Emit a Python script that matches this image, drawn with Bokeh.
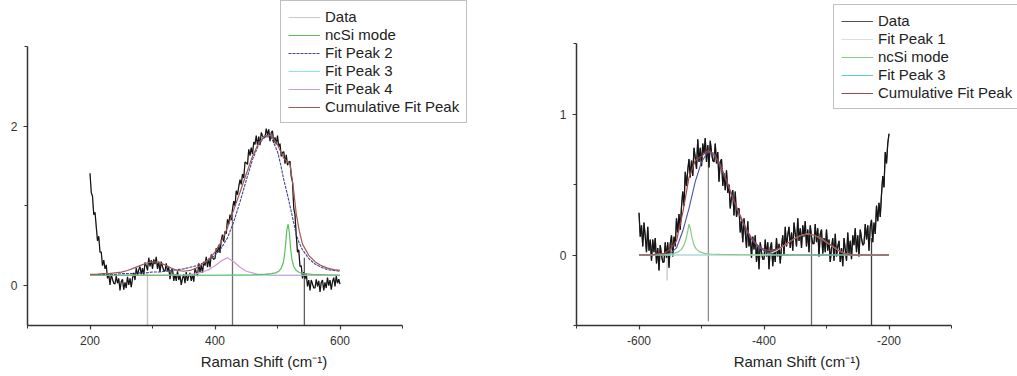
from bokeh.plotting import figure
from bokeh.layouts import row
from bokeh.models import Range1d, FixedTicker, Legend, LegendItem, PrintfTickFormatter
from bokeh.embed import file_html
from bokeh.resources import INLINE

# ---------------- Left panel data ----------------
left_x = list(range(200, 601, 2))
left_y = [
    1.41, 1.17, 1.12, 0.89, 0.92, 0.74, 0.56, 0.62, 0.42, 0.42, 0.25, 0.32, 0.21, 0.26, 0.09, 0.15, 0.01, 0.14, 0.08, 0.03,
    0.02, 0.12, 0.03, 0.09, -0.06, 0.05, 0.08, -0.05, 0.04, -0.03, 0.11, 0.01, 0.09, -0.02, 0.09, 0.16, 0.07, 0.22, 0.13, 0.20,
    0.24, 0.14, 0.22, 0.13, 0.29, 0.25, 0.19, 0.35, 0.24, 0.32, 0.21, 0.33, 0.27, 0.36, 0.21, 0.30, 0.17, 0.30, 0.24, 0.19,
    0.18, 0.28, 0.18, 0.23, 0.08, 0.19, 0.21, 0.06, 0.14, 0.06, 0.18, 0.07, 0.13, 0.01, 0.09, 0.14, 0.03, 0.17, 0.06, 0.12,
    0.16, 0.06, 0.14, 0.05, 0.22, 0.17, 0.12, 0.28, 0.17, 0.26, 0.16, 0.30, 0.25, 0.36, 0.23, 0.34, 0.23, 0.39, 0.35, 0.33,
    0.34, 0.47, 0.41, 0.51, 0.41, 0.57, 0.64, 0.55, 0.68, 0.65, 0.83, 0.77, 0.89, 0.82, 0.96, 1.06, 1.00, 1.19, 1.14, 1.24,
    1.33, 1.27, 1.40, 1.35, 1.55, 1.54, 1.52, 1.71, 1.63, 1.73, 1.65, 1.80, 1.77, 1.88, 1.76, 1.87, 1.76, 1.92, 1.88, 1.85,
    1.86, 1.97, 1.89, 1.96, 1.81, 1.92, 1.94, 1.79, 1.86, 1.77, 1.88, 1.74, 1.78, 1.62, 1.67, 1.68, 1.53, 1.64, 1.51, 1.55,
    1.56, 1.37, 1.30, 0.97, 0.89, 0.63, 0.42, 0.45, 0.24, 0.25, 0.09, 0.17, 0.08, 0.15, -0.01, 0.07, -0.06, 0.07, 0.02, -0.03,
    -0.03, 0.08, -0.01, 0.06, -0.08, 0.04, 0.07, -0.06, 0.04, -0.03, 0.10, 0.00, 0.07, -0.05, 0.05, 0.10, -0.01, 0.12, 0.03, 0.08,
    0.02]

left_fit_x = [200, 210, 220, 230, 240, 250, 260, 270, 280, 290, 300, 310, 320, 330, 340,
              350, 360, 370, 380, 390, 400, 410, 420, 430, 440, 450, 460, 470, 480, 490, 500,
              505, 510, 515, 520, 525, 530, 535, 540,
              550, 560, 570, 580, 590, 600]
left_peak2 = [0.14, 0.14, 0.14, 0.14, 0.14, 0.15, 0.15, 0.15, 0.16, 0.16, 0.17, 0.17, 0.18, 0.19, 0.20,
              0.21, 0.23, 0.25, 0.28, 0.32, 0.38, 0.47, 0.60, 0.80, 1.05, 1.32, 1.58, 1.77, 1.87, 1.86, 1.68,
              1.52, 1.33, 1.17, 1.00, 0.82, 0.64, 0.53, 0.45,
              0.34, 0.27, 0.23, 0.20, 0.19, 0.18]
left_peak4 = [0.13, 0.13, 0.13, 0.13, 0.13, 0.13, 0.13, 0.13, 0.13, 0.13, 0.13, 0.13, 0.13, 0.13, 0.13,
              0.13, 0.14, 0.15, 0.17, 0.20, 0.25, 0.31, 0.35, 0.30, 0.23, 0.18, 0.16, 0.14, 0.14, 0.13, 0.13,
              0.13, 0.13, 0.13, 0.13, 0.13, 0.13, 0.13, 0.13,
              0.13, 0.13, 0.13, 0.13, 0.13, 0.13]
left_cumulative = [0.14, 0.14, 0.15, 0.15, 0.16, 0.17, 0.19, 0.22, 0.25, 0.28, 0.30, 0.29, 0.26, 0.22, 0.19,
                   0.18, 0.19, 0.22, 0.27, 0.33, 0.42, 0.55, 0.73, 0.95, 1.17, 1.40, 1.62, 1.79, 1.88, 1.88, 1.77,
                   1.68, 1.60, 1.56, 1.52, 1.25, 0.90, 0.68, 0.52,
                   0.38, 0.30, 0.25, 0.22, 0.20, 0.19]
left_peak3_x = [200, 600]
left_peak3 = [0.13, 0.13]
left_ncsi_x = [200, 400, 460, 480, 490, 497, 502, 506, 509, 511, 513, 515, 517, 519, 521, 523,
               526, 530, 535, 542, 555, 600]
left_ncsi = [0.13, 0.13, 0.135, 0.14, 0.15, 0.16, 0.18, 0.22, 0.28, 0.37, 0.52, 0.70, 0.77, 0.66, 0.46, 0.33,
             0.24, 0.19, 0.165, 0.15, 0.14, 0.13]
left_spike_x = [292, 428, 543]
left_spike_top = [0.15, 0.90, 0.35]
left_spike_bottom = [-0.5, -0.5, -0.5]

# ---------------- Right panel data ----------------
right_x = list(range(-600, -199, 2))
right_y = [
    0.30, 0.13, 0.21, 0.06, 0.23, 0.13, 0.02, 0.20, 0.03, 0.11, -0.04, 0.11, 0.02, 0.12, -0.06, 0.05, -0.11, 0.07, 0.00, -0.05,
    -0.05, 0.09, -0.02, 0.09, -0.09, 0.08, 0.14, -0.01, 0.13, 0.06, 0.26, 0.16, 0.29, 0.18, 0.34, 0.45, 0.35, 0.59, 0.49, 0.60,
    0.68, 0.55, 0.67, 0.56, 0.76, 0.69, 0.61, 0.82, 0.66, 0.76, 0.63, 0.79, 0.72, 0.83, 0.66, 0.78, 0.62, 0.81, 0.73, 0.67,
    0.66, 0.79, 0.65, 0.73, 0.52, 0.66, 0.68, 0.49, 0.58, 0.46, 0.60, 0.44, 0.50, 0.33, 0.41, 0.46, 0.28, 0.45, 0.27, 0.32,
    0.33, 0.16, 0.24, 0.09, 0.26, 0.16, 0.05, 0.24, 0.06, 0.13, -0.02, 0.13, 0.04, 0.14, -0.05, 0.07, -0.10, 0.09, 0.02, -0.03,
    -0.03, 0.11, -0.01, 0.09, -0.10, 0.05, 0.09, -0.08, 0.04, -0.05, 0.12, -0.01, 0.08, -0.06, 0.06, 0.14, 0.00, 0.20, 0.06, 0.14,
    0.20, 0.05, 0.16, 0.03, 0.23, 0.15, 0.06, 0.26, 0.10, 0.19, 0.05, 0.21, 0.13, 0.24, 0.06, 0.18, 0.02, 0.21, 0.13, 0.08,
    0.08, 0.22, 0.09, 0.19, -0.01, 0.15, 0.18, 0.01, 0.12, 0.02, 0.18, 0.03, 0.11, -0.05, 0.05, 0.12, -0.04, 0.15, -0.01, 0.06,
    0.10, -0.05, 0.05, -0.08, 0.12, 0.04, -0.04, 0.16, 0.01, 0.10, -0.03, 0.14, 0.07, 0.19, 0.02, 0.14, -0.01, 0.18, 0.12, 0.07,
    0.08, 0.22, 0.11, 0.21, 0.03, 0.20, 0.25, 0.09, 0.23, 0.15, 0.35, 0.24, 0.37, 0.27, 0.43, 0.56, 0.48, 0.73, 0.65, 0.79,
    0.86]

right_fit_x = list(range(-600, -199, 10))
right_broad = [0.0, 0.0, 0.0, 0.0, 0.0, 0.01, 0.05, 0.17, 0.33, 0.52, 0.66, 0.73, 0.71, 0.63, 0.52,
               0.40, 0.29, 0.19, 0.11, 0.06, 0.03, 0.01,
               0.0, 0.0, 0.0, 0.0, 0.0, 0.0, 0.0, 0.0, 0.0, 0.0, 0.0, 0.0, 0.0, 0.0, 0.0, 0.0, 0.0, 0.0, 0.0]
right_peak1 = [0.0, 0.0, 0.0, 0.0, 0.0, 0.0, 0.0, 0.0, 0.0, 0.0, 0.0, 0.0, 0.0, 0.0, 0.0, 0.0, 0.0, 0.0, 0.0, 0.0,
               0.0, 0.01, 0.03, 0.06, 0.09, 0.12, 0.14, 0.15, 0.14, 0.12, 0.09, 0.06, 0.03, 0.01, 0.0,
               0.0, 0.0, 0.0, 0.0, 0.0, 0.0]
right_cumulative = [0.0, 0.0, 0.0, 0.01, 0.01, 0.04, 0.10, 0.30, 0.55, 0.67, 0.70, 0.74, 0.72, 0.64, 0.53,
                    0.41, 0.30, 0.20, 0.12, 0.07, 0.04, 0.03, 0.04, 0.06, 0.09, 0.12, 0.14, 0.15, 0.14, 0.12,
                    0.09, 0.06, 0.03, 0.01, 0.0, 0.0, 0.0, 0.0, 0.0, 0.0, 0.0]
right_peak3_x = [-600, -200]
right_peak3 = [0.0, 0.0]
right_ncsi_x = [-600, -560, -545, -538, -532, -528, -525, -522, -520, -518, -515, -512, -508, -502,
                -495, -485, -470, -440, -400, -300, -200]
right_ncsi = [0.0, 0.003, 0.01, 0.02, 0.04, 0.07, 0.11, 0.17, 0.22, 0.19, 0.12, 0.07, 0.04, 0.02,
              0.012, 0.007, 0.004, 0.002, 0.001, 0.0, 0.0]
right_spike_x = [-555, -489, -324, -228]
right_spike_top = [0.0, 0.72, 0.12, 0.12]
right_spike_bottom = [-0.18, -0.47, -0.5, -0.5]

FONT = "Liberation Sans"


def style_axes(p, xb, yb, xt, xm, yt, ym):
    for ax in (p.xaxis[0], p.yaxis[0]):
        ax.axis_line_color = "#333333"
        ax.axis_line_width = 1.5
        ax.major_tick_line_color = "#333333"
        ax.minor_tick_line_color = "#333333"
        ax.major_tick_line_width = 1.2
        ax.major_tick_in = 0
        ax.major_tick_out = 4
        ax.minor_tick_in = 0
        ax.minor_tick_out = 3
        ax.major_label_text_font = FONT
        ax.major_label_text_font_size = "12px"
        ax.major_label_text_color = "#333333"
        ax.major_label_standoff = 6
        ax.formatter = PrintfTickFormatter(format="%d")
    p.xaxis[0].bounds = xb
    p.yaxis[0].bounds = yb
    p.xaxis[0].ticker = FixedTicker(ticks=xt, minor_ticks=xm)
    p.yaxis[0].ticker = FixedTicker(ticks=yt, minor_ticks=ym)
    p.xaxis[0].axis_label = "Raman Shift (cm\u207b\u00b9)"
    p.xaxis[0].axis_label_text_font = FONT
    p.xaxis[0].axis_label_text_font_size = "15px"
    p.xaxis[0].axis_label_text_font_style = "normal"
    p.xaxis[0].axis_label_text_color = "#222222"
    p.xaxis[0].axis_label_standoff = 5
    p.grid.visible = False


def make_legend(items, loc):
    lg = Legend(items=items, location=loc)
    lg.label_text_font = FONT
    lg.label_text_font_size = "15px"
    lg.label_text_color = "#222222"
    lg.glyph_width = 32
    lg.glyph_height = 16
    lg.label_height = 16
    lg.spacing = 1
    lg.padding = 7
    lg.label_standoff = 5
    lg.border_line_color = "#808080"
    lg.border_line_width = 1
    lg.background_fill_color = "white"
    lg.background_fill_alpha = 1.0
    return lg


# ---------------- Left figure ----------------
p1 = figure(width=500, height=376, x_range=Range1d(100, 856.8), y_range=Range1d(-0.5, 3.575),
            output_backend="svg", toolbar_location=None, min_border_left=27, min_border_right=0,
            min_border_top=0, min_border_bottom=50, outline_line_color=None)
style_axes(p1, (100, 700), (-0.5, 3), [200, 400, 600], [100, 300, 500, 700], [0, 2], [1, 3])

p1.segment(x0=left_spike_x, y0=left_spike_top, x1=left_spike_x, y1=left_spike_bottom,
           line_color=["#c0c0c0", "#6e6e6e", "#5e5e5e"], line_width=1.3)
r_data_l = p1.line(left_x, left_y, line_color="#c8c8c8", line_width=1.2)
p1.line(left_x, left_y, line_color="#141414", line_width=1.2)
r_p3_l = p1.line(left_peak3_x, left_peak3, line_color="#8fe3e3", line_width=1.2)
r_p4_l = p1.line(left_fit_x, left_peak4, line_color="#d29ad2", line_width=1.2)
r_p2_l = p1.line(left_fit_x, left_peak2, line_color="#45458f", line_width=1.1, line_dash="3 1")
r_ncsi_l = p1.line(left_ncsi_x, left_ncsi, line_color="#5cbf5c", line_width=1.2)
r_cum_l = p1.line(left_fit_x, left_cumulative, line_color="#a05858", line_width=1.2)

leg1 = make_legend([
    LegendItem(label="Data", renderers=[r_data_l]),
    LegendItem(label="ncSi mode", renderers=[r_ncsi_l]),
    LegendItem(label="Fit Peak 2", renderers=[r_p2_l]),
    LegendItem(label="Fit Peak 3", renderers=[r_p3_l]),
    LegendItem(label="Fit Peak 4", renderers=[r_p4_l]),
    LegendItem(label="Cumulative Fit Peak", renderers=[r_cum_l]),
], (253, 202))
p1.add_layout(leg1)

# ---------------- Right figure ----------------
p2 = figure(width=517, height=376, x_range=Range1d(-700, 5.6), y_range=Range1d(-0.5, 1.805),
            output_backend="svg", toolbar_location=None, min_border_left=76, min_border_right=0,
            min_border_top=0, min_border_bottom=51, outline_line_color=None)
style_axes(p2, (-700, -100), (-0.5, 1.5), [-600, -400, -200], [-700, -500, -300, -100],
           [0, 1], [-0.5, 0.5, 1.5])

p2.segment(x0=right_spike_x, y0=right_spike_top, x1=right_spike_x, y1=right_spike_bottom,
           line_color=["#c8c8c8", "#8e8e8e", "#6a6a6a", "#3e3e3e"], line_width=1.3)
r_data_r = p2.line(right_x, right_y, line_color="#505050", line_width=1.2)
p2.line(right_x, right_y, line_color="#141414", line_width=1.2)
r_p3_r = p2.line(right_peak3_x, right_peak3, line_color="#5ccfd0", line_width=1.2)
r_p1_r = p2.line(right_fit_x, right_peak1, line_color="#dcdce6", line_width=1.2)
p2.line(right_fit_x, right_broad, line_color="#5050a0", line_width=1.1)
r_ncsi_r = p2.line(right_ncsi_x, right_ncsi, line_color="#86cc86", line_width=1.2)
r_cum_r = p2.line(right_fit_x, right_cumulative, line_color="#a04848", line_width=1.2)

leg2 = make_legend([
    LegendItem(label="Data", renderers=[r_data_r]),
    LegendItem(label="Fit Peak 1", renderers=[r_p1_r]),
    LegendItem(label="ncSi mode", renderers=[r_ncsi_r]),
    LegendItem(label="Fit Peak 3", renderers=[r_p3_r]),
    LegendItem(label="Cumulative Fit Peak", renderers=[r_cum_r]),
], (257, 216))
p2.add_layout(leg2)

layout = row(p1, p2)
open("out.html", "w").write(file_html(layout, INLINE))
